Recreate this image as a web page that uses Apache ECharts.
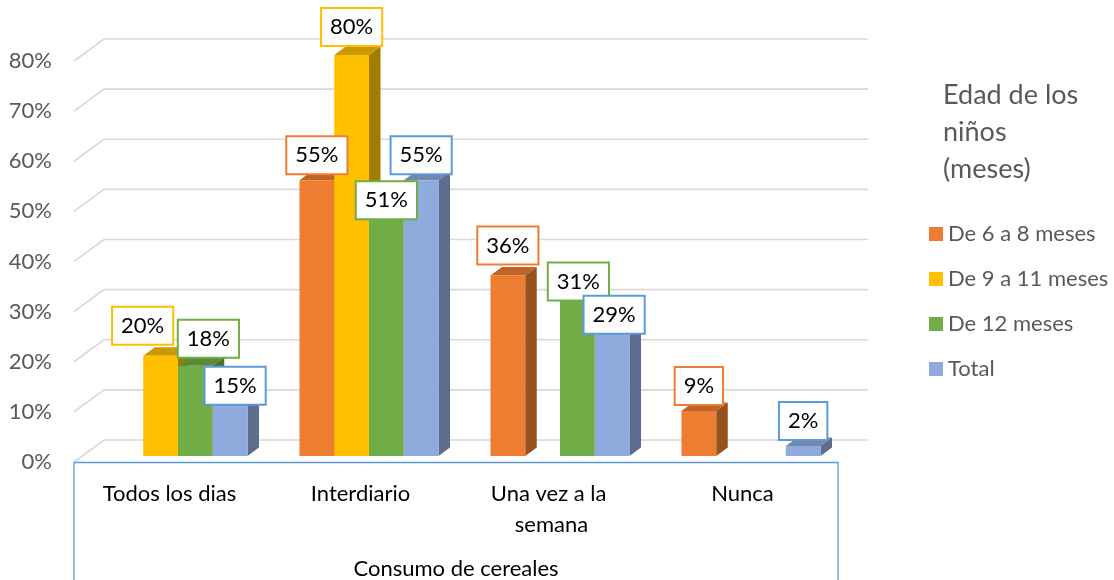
<!DOCTYPE html>
<html><head><meta charset="utf-8">
<script src="https://cdn.jsdelivr.net/npm/echarts@6/dist/echarts.min.js"></script>
<style>html,body{margin:0;padding:0;background:#fff}#c{width:1114px;height:580px}</style>
</head><body><div id="c"></div>
<script>
// ---- data ----
const categories = ['Todos los dias', 'Interdiario', 'Una vez a la semana', 'Nunca'];
const seriesNames = ['De 6 a 8 meses', 'De 9 a 11 meses', 'De 12 meses', 'Total'];
const s6a8 = [0, 55, 36, 9];
const s9a11 = [20, 80, 0, 0];
const s12 = [18, 51, 31, 0];
const sTotal = [15, 55, 29, 2];
const yTicks = [0, 10, 20, 30, 40, 50, 60, 70, 80];
const axisTitle = 'Consumo de cereales';
const legendTitle = 'Edad de los\nniños\n(meses)';

// ---- style ----
const FONT = 'Lato';
const FS = 22;
const colors = ['#ED7D31', '#FFC000', '#70AD47', '#8FAADC'];
const labelBorder = ['#ED7D31', '#FFC000', '#70AD47', '#5B9BD5'];
const WALL = [30, -22];        // depth of the back wall
const BAR_OFF = [8.5, -6];     // bar front face offset from front plane
const BAR_DEPTH = [11.5, -8.5];
const BAR_FRAC = 0.182;
// label nudges [series][category] (dx, dy)
const labelNudge = [
  [[0,0],[0,0],[0,-5],[0,0]],
  [[-18,-5],[0,-3],[0,0],[0,0]],
  [[13,-2],[0,25],[1,6],[0,0]],
  [[5,30],[0,0],[2,29],[0,0]]
];

function shade(hex, f) {
  const n = parseInt(hex.slice(1), 16);
  const r = Math.round(((n >> 16) & 255) * f), g = Math.round(((n >> 8) & 255) * f), b = Math.round((n & 255) * f);
  return 'rgb(' + r + ',' + g + ',' + b + ')';
}
const allSeries = [s6a8, s9a11, s12, sTotal];

function geom(api, cat, v, si) {
  const W = api.size([1, 0])[0];
  const bw = W * BAR_FRAC;
  const c = api.coord([cat, v]);
  const b = api.coord([cat, 0]);
  const x0 = c[0] + BAR_OFF[0] - 2 * bw + si * bw;
  return { x0: x0, bw: bw, yT: c[1] + BAR_OFF[1], yB: b[1] + BAR_OFF[1] };
}

function barRender(si) {
  return function (params, api) {
    const cat = api.value(0), v = api.value(1);
    if (!v) return null;
    const g = geom(api, cat, v, si);
    const dx = BAR_DEPTH[0], dy = BAR_DEPTH[1];
    const col = colors[si];
    const x0 = g.x0, bw = g.bw, yT = g.yT, yB = g.yB;
    return { type: 'group', children: [
      { type: 'polygon', shape: { points: [[x0, yT], [x0 + bw, yT], [x0 + bw + dx, yT + dy], [x0 + dx, yT + dy]] }, style: { fill: shade(col, 0.8) } },
      { type: 'polygon', shape: { points: [[x0 + bw, yB], [x0 + bw, yT], [x0 + bw + dx, yT + dy], [x0 + bw + dx, yB + dy]] }, style: { fill: shade(col, 0.64) } },
      { type: 'rect', shape: { x: x0, y: yT, width: bw, height: yB - yT }, style: { fill: col } }
    ] };
  };
}

const gridData = yTicks.map(t => [0, t]);
function gridRender(params, api) {
  const t = api.value(1);
  const W = api.size([1, 0])[0];
  const pl = api.coord([0, t]);
  const pr = api.coord([categories.length - 1, t]);
  const left = pl[0] - W / 2, right = pr[0] + W / 2, y = pl[1];
  const children = [{ type: 'polyline', shape: { points: [[left, y], [left + WALL[0], y + WALL[1]], [right + WALL[0], y + WALL[1]]] },
    style: { stroke: '#D9D9D9', lineWidth: 1.6, fill: null } }];
  if (params.dataIndex === 0) {
    children.push({ type: 'line', shape: { x1: left, y1: y, x2: left, y2: 600 }, style: { stroke: '#5B9BD5', lineWidth: 1.3 } });
    children.push({ type: 'line', shape: { x1: right, y1: y, x2: right, y2: 600 }, style: { stroke: '#5B9BD5', lineWidth: 1.3 } });
    children.push({ type: 'line', shape: { x1: left, y1: y + 0.5, x2: right, y2: y + 0.5 }, style: { stroke: '#5B9BD5', lineWidth: 1.3 } });
  }
  return { type: 'group', children: children };
}

const labelData = [];
allSeries.forEach((arr, si) => arr.forEach((v, ci) => { if (v) labelData.push([ci, v, si]); }));
function labelRender(params, api) {
  const cat = api.value(0), v = api.value(1), si = api.value(2);
  const g = geom(api, cat, v, si);
  const n = labelNudge[si][cat];
  const cx = g.x0 + g.bw / 2 + n[0];
  const cy = g.yT + BAR_DEPTH[1] + 2 - 18.5 + n[1];
  return { type: 'text', x: cx, y: cy, style: {
    text: v + '%', font: FS + 'px ' + FONT, fill: '#000', align: 'center', verticalAlign: 'middle',
    backgroundColor: '#fff', borderColor: labelBorder[si], borderWidth: 2, padding: [6, 8], lineHeight: 24
  } };
}

const series = [{ type: 'custom', name: '_grid', data: gridData, renderItem: gridRender, z: 1, silent: true }];
allSeries.forEach((arr, si) => {
  series.push({ type: 'custom', name: seriesNames[si], data: arr.map((v, i) => [i, v]), renderItem: barRender(si),
    itemStyle: { color: colors[si] }, z: 2 });
});
series.push({ type: 'custom', name: '_labels', data: labelData, renderItem: labelRender, z: 5, silent: true });

const chart = echarts.init(document.getElementById('c'), null, { renderer: 'canvas' });
chart.setOption({
  animation: false,
  backgroundColor: '#fff',
  title: { text: legendTitle, left: 943, top: 77, padding: 0, textStyle: { fontFamily: FONT, fontSize: 27, fontWeight: 'normal', color: '#595959', lineHeight: 37 } },
  legend: { data: seriesNames, orient: 'vertical', left: 929, top: 222, padding: 0, icon: 'rect', itemWidth: 14, itemHeight: 14, itemGap: 21,
    textStyle: { fontFamily: FONT, fontSize: FS, color: '#595959', lineHeight: 24 } },
  grid: { left: 74, right: 276, top: 61, bottom: 118, containLabel: false, outerBoundsMode: 'none' },
  xAxis: { type: 'category', data: categories, name: axisTitle, nameLocation: 'middle', nameGap: 96,
    nameTextStyle: { fontFamily: FONT, fontSize: FS, color: '#000' },
    axisLine: { show: false }, axisTick: { show: false },
    axisLabel: { fontFamily: FONT, fontSize: FS, color: '#000', margin: 16, lineHeight: 31, width: 150, overflow: 'break', interval: 0 } },
  yAxis: { type: 'value', min: 0, max: 80, interval: 10, axisLine: { show: false }, axisTick: { show: false }, splitLine: { show: false },
    axisLabel: { fontFamily: FONT, fontSize: FS, color: '#595959', margin: 22, formatter: v => v + '%' } },
  series: series
});
</script></body></html>
